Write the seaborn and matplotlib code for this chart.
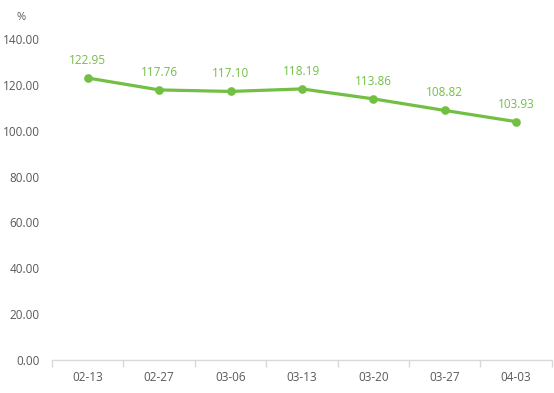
import matplotlib
matplotlib.use("Agg")
import matplotlib.pyplot as plt
import numpy as np
import pandas as pd
import seaborn as sns

dates = ["02-13", "02-27", "03-06", "03-13", "03-20", "03-27", "04-03"]
values = [122.95, 117.76, 117.10, 118.19, 113.86, 108.82, 103.93]
y_ticks = [0, 20, 40, 60, 80, 100, 120, 140]

sns.set_style("white")
plt.rcParams["font.family"] = ["Open Sans", "DejaVu Sans"]

green = "#72bf44"
grey_text = "#595959"
axis_grey = "#d9d9d9"

data = pd.DataFrame({"date": dates, "value": values})

figure = plt.figure(figsize=(5.54, 3.93), dpi=100)
ax = figure.add_axes([0.094, 0.084, 0.902, 0.817])

sns.pointplot(
    data=data, x="date", y="value", ax=ax, color=green,
    linewidth=2.3, markersize=4.5)

for i, v in enumerate(values):
    ax.annotate("{:.2f}".format(v), (i, v), xytext=(0, 8),
                textcoords="offset points", ha="center", va="bottom",
                color=green, fontsize=8.5)

ax.set_xlim(-0.5, len(dates) - 0.5)
ax.set_ylim(0, 140)
ax.set_yticks(y_ticks)
ax.set_yticklabels(["{:.2f}".format(t) for t in y_ticks])
ax.set_xlabel("")
ax.set_ylabel("")

# tick marks on category boundaries
ax.set_xticks(np.arange(len(dates) + 1) - 0.5, minor=True)
ax.tick_params(axis="x", which="minor", bottom=True, length=5,
               color=axis_grey, width=1)
ax.tick_params(axis="x", which="major", bottom=False, length=0,
               colors=grey_text, labelsize=8.5, pad=8)
ax.tick_params(axis="y", length=0, colors=grey_text, labelsize=8.5, pad=9)

for side in ["top", "right", "left"]:
    ax.spines[side].set_visible(False)
ax.spines["bottom"].set_color(axis_grey)
ax.spines["bottom"].set_linewidth(1)

figure.text(21 / 554, 1 - 18 / 393, "%", color=grey_text, fontsize=8,
            ha="center", va="center")

plt.savefig("out.png", dpi=100)
